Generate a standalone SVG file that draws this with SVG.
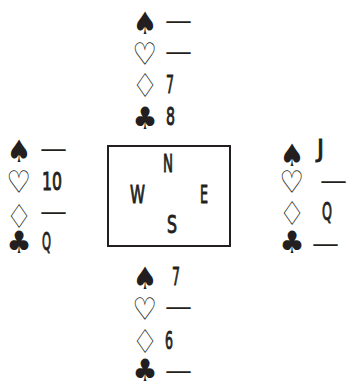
<svg xmlns="http://www.w3.org/2000/svg" width="347" height="381" viewBox="0 0 347 381">
<style>
text{font-family:"DejaVu Sans Condensed","DejaVu Sans",sans-serif;fill:#231f20}
.s{font-size:31px;text-anchor:middle}
.dm{font-size:33px;text-anchor:middle}
.v{font-size:25px;stroke:#231f20;stroke-width:0.9}
.d{font-size:24px}
</style>
<rect width="347" height="381" fill="#fff"/>
<g id="north">
<text class="s" x="145" y="34">♠</text><text class="d" x="165" y="29" textLength="27" lengthAdjust="spacingAndGlyphs">—</text>
<text class="s" x="145" y="65">♡</text><text class="d" x="165" y="60" textLength="27" lengthAdjust="spacingAndGlyphs">—</text>
<text class="dm" x="145" y="97">♢</text><text class="v" x="166" y="93" textLength="8" lengthAdjust="spacingAndGlyphs">7</text>
<text class="s" x="145" y="129">♣</text><text class="v" x="166" y="125" textLength="9" lengthAdjust="spacingAndGlyphs">8</text>
</g>
<g id="west">
<text class="s" x="19" y="162">♠</text><text class="d" x="40" y="157" textLength="27" lengthAdjust="spacingAndGlyphs">—</text>
<text class="s" x="19" y="193">♡</text><text class="v" x="42" y="190" textLength="20" lengthAdjust="spacingAndGlyphs">10</text>
<text class="dm" x="19" y="228">♢</text><text class="d" x="40" y="220" textLength="27" lengthAdjust="spacingAndGlyphs">—</text>
<text class="s" x="19" y="253">♣</text><text class="v" x="42" y="250" textLength="9" lengthAdjust="spacingAndGlyphs">Q</text>
</g>
<g id="east">
<text class="s" x="292" y="166">♠</text><text class="v" x="317" y="157" textLength="7" lengthAdjust="spacingAndGlyphs">J</text>
<text class="s" x="292" y="193">♡</text><text class="d" x="320" y="189" textLength="27" lengthAdjust="spacingAndGlyphs">—</text>
<text class="dm" x="292" y="225">♢</text><text class="v" x="322" y="220" textLength="10" lengthAdjust="spacingAndGlyphs">Q</text>
<text class="s" x="292" y="253">♣</text><text class="d" x="312" y="252" textLength="27" lengthAdjust="spacingAndGlyphs">—</text>
</g>
<g id="south">
<text class="s" x="145" y="289">♠</text><text class="v" x="172" y="285" textLength="8" lengthAdjust="spacingAndGlyphs">7</text>
<text class="s" x="145" y="320">♡</text><text class="d" x="165" y="315" textLength="27" lengthAdjust="spacingAndGlyphs">—</text>
<text class="dm" x="145" y="353">♢</text><text class="v" x="165" y="349" textLength="8" lengthAdjust="spacingAndGlyphs">6</text>
<text class="s" x="145" y="381">♣</text><text class="d" x="165" y="379" textLength="27" lengthAdjust="spacingAndGlyphs">—</text>
</g>
<g id="table">
<rect x="108" y="146" width="122" height="100" fill="none" stroke="#231f20" stroke-width="2"/>
<text class="v" x="163" y="172" textLength="10" lengthAdjust="spacingAndGlyphs">N</text>
<text class="v" x="130" y="203" textLength="15" lengthAdjust="spacingAndGlyphs">W</text>
<text class="v" x="200" y="203" textLength="8" lengthAdjust="spacingAndGlyphs">E</text>
<text class="v" x="167" y="233" textLength="10" lengthAdjust="spacingAndGlyphs">S</text>
</g>
</svg>
